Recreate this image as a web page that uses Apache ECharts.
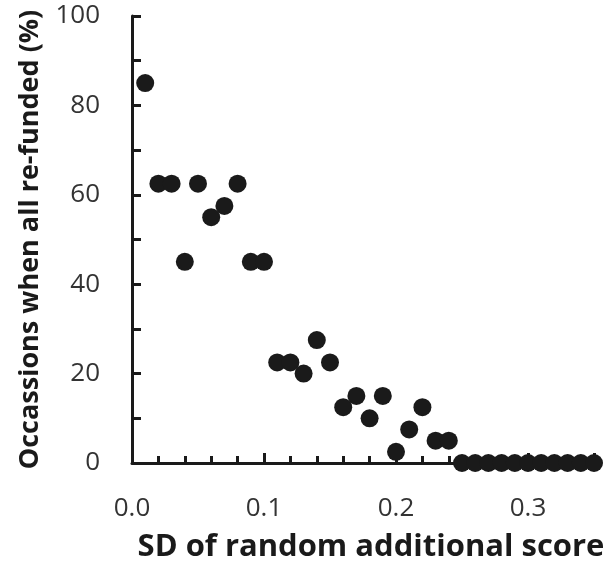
<!DOCTYPE html>
<html>
<head>
<meta charset="utf-8">
<script src="https://cdn.jsdelivr.net/npm/echarts@6/dist/echarts.min.js"></script>
<style>
  html, body { margin: 0; padding: 0; background: #fff; }
  #main { width: 608px; height: 570px; }
</style>
</head>
<body>
<div id="main"></div>
<script>
// SD of random additional score (x) and occasions when all re-funded (y, %)
const sdValues = [
  0.01, 0.02, 0.03, 0.04, 0.05, 0.06, 0.07, 0.08, 0.09, 0.10,
  0.11, 0.12, 0.13, 0.14, 0.15, 0.16, 0.17, 0.18, 0.19, 0.20,
  0.21, 0.22, 0.23, 0.24, 0.25, 0.26, 0.27, 0.28, 0.29, 0.30,
  0.31, 0.32, 0.33, 0.34, 0.35
];
const refundedPct = [
  85, 62.5, 62.5, 45, 62.5, 55, 57.5, 62.5, 45, 45,
  22.5, 22.5, 20, 27.5, 22.5, 12.5, 15, 10, 15, 2.5,
  7.5, 12.5, 5, 5, 0, 0, 0, 0, 0, 0,
  0, 0, 0, 0, 0
];
const xTicks = [0, 0.1, 0.2, 0.3];
const yTicks = [0, 20, 40, 60, 80, 100];

const points = sdValues.map((v, i) => [v, refundedPct[i]]);

const labelFont = "'Open Sans', 'Noto Sans', sans-serif";

let myChart = echarts.init(document.getElementById("main"));
let option = {
  animation: false,
  grid: { left: 132, top: 16, right: 14, bottom: 107 },
  xAxis: {
    type: "value",
    min: 0,
    max: 0.35,
    interval: 0.1,
    name: "SD of random additional score",
    nameLocation: "middle",
    nameGap: 69,
    nameTextStyle: {
      fontFamily: labelFont, fontWeight: "bold", fontSize: 31, color: "#1a1a1a",
      padding: [0, 0, 0, 16]
    },
    axisLine: { lineStyle: { color: "#1a1a1a", width: 3 } },
    axisTick: { inside: true, length: 10, lineStyle: { color: "#1a1a1a", width: 3 } },
    minorTick: { show: true, splitNumber: 5, length: 7, lineStyle: { color: "#1a1a1a", width: 3 } },
    splitLine: { show: false },
    axisLabel: {
      showMaxLabel: false,
      margin: 33,
      fontFamily: labelFont,
      fontSize: 26,
      color: "#333333",
      formatter: v => xTicks.includes(Math.round(v * 10) / 10) ? v.toFixed(1) : ""
    }
  },
  yAxis: {
    type: "value",
    min: 0,
    max: 100,
    interval: 20,
    name: "Occassions when all re-funded (%)",
    nameLocation: "middle",
    nameGap: 88,
    nameTextStyle: { fontFamily: labelFont, fontWeight: "bold", fontSize: 27, color: "#1a1a1a" },
    axisLine: { show: true, lineStyle: { color: "#1a1a1a", width: 3 } },
    axisTick: { show: true, inside: true, length: 9, lineStyle: { color: "#1a1a1a", width: 3 } },
    minorTick: { show: true, splitNumber: 2, length: 9, lineStyle: { color: "#1a1a1a", width: 3 } },
    splitLine: { show: false },
    axisLabel: {
      margin: 32,
      fontFamily: labelFont,
      fontSize: 26,
      color: "#333333",
      formatter: v => yTicks.includes(v) ? String(v) : ""
    }
  },
  series: [
    {
      type: "scatter",
      data: points,
      symbolSize: 18,
      itemStyle: { color: "#1a1a1a", opacity: 1 },
      clip: false
    }
  ]
};
option && myChart.setOption(option);
</script>
</body>
</html>
